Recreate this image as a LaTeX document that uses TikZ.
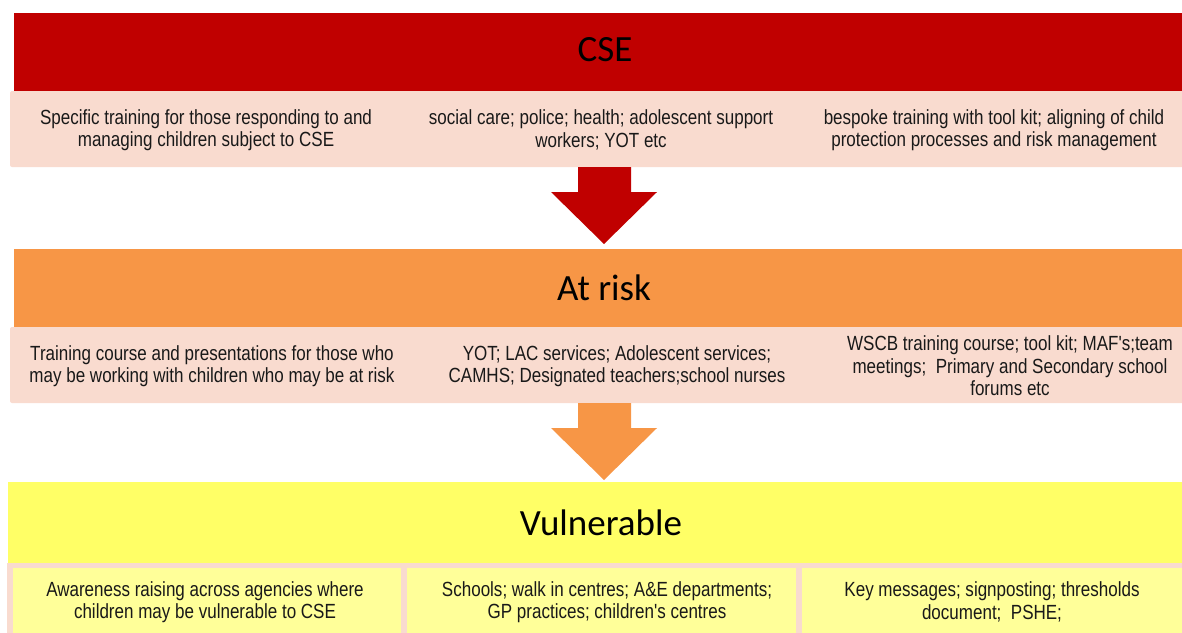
\documentclass[tikz,border=0pt]{standalone}
\usepackage{fontspec}
\newfontfamily\titlefont{Carlito}
\newfontfamily\bodyfont[FakeStretch=0.83]{Liberation Sans}
\definecolor{cserred}{HTML}{C00000}
\definecolor{rowpink}{HTML}{F9DBCF}
\definecolor{riskorange}{HTML}{F79646}
\definecolor{vulyellow}{HTML}{FFFF66}
\definecolor{paleyellow}{HTML}{FFFF99}
\tikzset{
  titletext/.style={font=\titlefont\fontsize{37}{42}\selectfont, text=black, inner sep=0pt},
  bodytext/.style={font=\bodyfont\fontsize{20.5}{22.5}\selectfont, text=black!90, align=center, inner sep=0pt},
}
\begin{document}
\begin{tikzpicture}[x=1pt,y=-1pt]
\useasboundingbox (0,0) rectangle (1182,632);
% bands
\fill[cserred] (14,13) rectangle (1182,91);
\fill[rowpink, rounded corners=2pt] (10,91) rectangle (1190,167);
\fill[riskorange] (14,249) rectangle (1182,327);
\fill[rowpink, rounded corners=2pt] (10,327) rectangle (1190,403);
\fill[vulyellow] (8,482) rectangle (1182,563);
\fill[rowpink] (7,563) rectangle (1182,640);
\fill[paleyellow] (13,568) rectangle (401,640);
\fill[paleyellow] (407,568) rectangle (796,640);
\fill[paleyellow] (802,568) rectangle (1182,640);
% arrows
\fill[cserred] (578,167) -- (631,167) -- (631,192) -- (657,192) -- (604,244) -- (551,192) -- (578,192) -- cycle;
\fill[riskorange] (578,403) -- (631,403) -- (631,428) -- (657,428) -- (604,480) -- (551,428) -- (578,428) -- cycle;
% titles
\node[titletext] (cse) at (605,50) {CSE};
\node[titletext] (risk) at (604,288) {At risk};
\node[titletext] (vul) at (601,523) {Vulnerable};
% row 1
\node[bodytext] (c1) at (206,130) {Specific training for those responding to and\\managing children subject to CSE};
\node[bodytext] (c2) at (601,130) {social care; police; health; adolescent support\\workers; YOT etc};
\node[bodytext] (c3) at (994,130) {bespoke training with tool kit; aligning of child\\protection processes and risk management};
% row 2
\node[bodytext] (r1) at (212,366) {Training course and presentations for those who\\may be working with children who may be at risk};
\node[bodytext] (r2) at (617,366) {YOT; LAC services; Adolescent services;\\CAMHS; Designated teachers;school nurses};
\node[bodytext] (r3) at (1010,366) {WSCB training course; tool kit; MAF's;team\\meetings;\ \ Primary and Secondary school\\forums etc};
% row 3
\node[bodytext] (v1) at (205,602) {Awareness raising across agencies where\\children may be vulnerable to CSE};
\node[bodytext] (v2) at (607,602) {Schools; walk in centres; A\&E departments;\\GP practices; children's centres};
\node[bodytext] (v3) at (992,602) {Key messages; signposting; thresholds\\document;\ \ PSHE;};
\end{tikzpicture}
\end{document}
